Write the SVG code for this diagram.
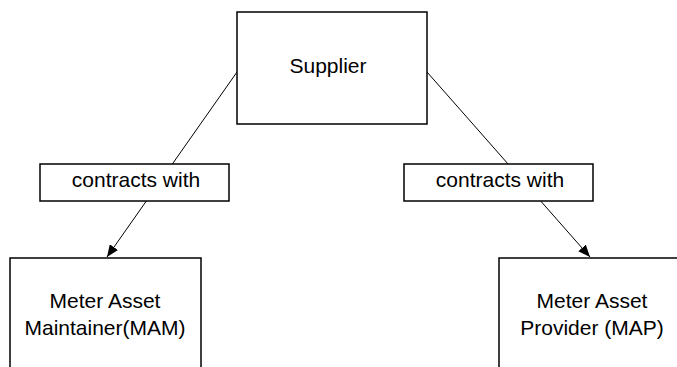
<svg xmlns="http://www.w3.org/2000/svg" width="677" height="367" viewBox="0 0 677 367">
<style>
.box{fill:#fff;stroke:#000;stroke-width:1.5}
.t{font-family:"Liberation Sans",Arial,sans-serif;font-size:21px;fill:#000;text-anchor:middle}
.edge{stroke:#000;stroke-width:1;fill:none}
</style>
<defs>
<marker id="arr" viewBox="0 0 12 10" refX="12" refY="5" markerWidth="12" markerHeight="10" markerUnits="userSpaceOnUse" orient="auto">
<path d="M0,0 L12,5 L0,10 z" fill="#000"/>
</marker>
</defs>
<rect width="677" height="367" fill="#fff"/>
<g id="connectors">
<line class="edge" x1="237" y1="72" x2="107" y2="257" marker-end="url(#arr)"/>
<line class="edge" x1="427" y1="72" x2="590" y2="257" marker-end="url(#arr)"/>
</g>
<g id="supplier">
<rect class="box" x="237" y="12" width="190" height="112"/>
<text class="t" x="328" y="73">Supplier</text>
</g>
<g id="label-left">
<rect class="box" x="40" y="164" width="189" height="37"/>
<text class="t" x="136" y="187">contracts with</text>
</g>
<g id="label-right">
<rect class="box" x="404" y="164" width="189" height="37"/>
<text class="t" x="500" y="187">contracts with</text>
</g>
<g id="mam">
<rect class="box" x="10" y="258" width="191" height="120"/>
<text class="t" x="105" y="308">Meter Asset</text>
<text class="t" x="105" y="335">Maintainer(MAM)</text>
</g>
<g id="map">
<rect class="box" x="499" y="258" width="200" height="120"/>
<text class="t" x="592" y="308">Meter Asset</text>
<text class="t" x="592" y="335">Provider (MAP)</text>
</g>
</svg>
